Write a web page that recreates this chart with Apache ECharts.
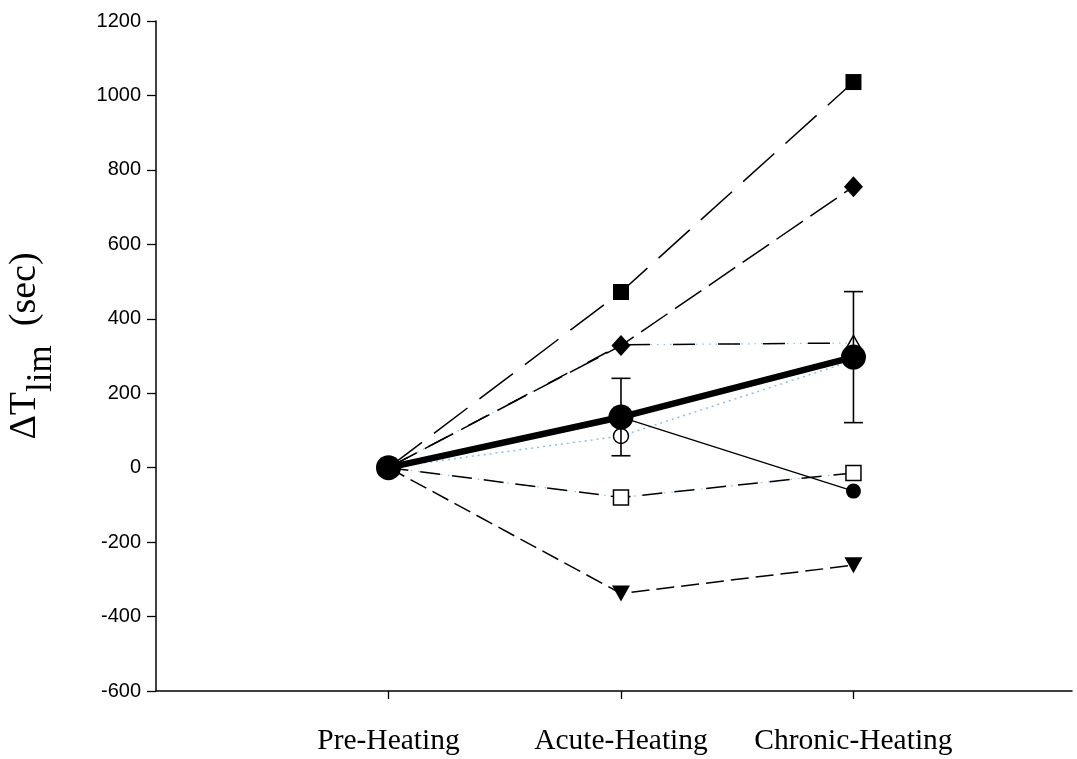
<!DOCTYPE html>
<html>
<head>
<meta charset="utf-8">
<script src="https://cdn.jsdelivr.net/npm/echarts@6/dist/echarts.min.js"></script>
<style>
  html, body { margin: 0; padding: 0; background: #fff; }
  #chart { width: 1077px; height: 759px; }
</style>
</head>
<body>
<div id="chart"></div>
<script>
// Phases of the heating protocol (x positions 1, 2, 3)
var categories = ['Pre-Heating', 'Acute-Heating', 'Chronic-Heating'];

// Individual subjects: change in Tlim (sec)
var subjSquareFilled = [0, 472, 1036];
var subjDiamond      = [0, 328, 755];
var subjTriangleUp   = [0, 330, 335];
var subjCircleOpen   = [0, 85, 288];
var subjCircleFilled = [0, 136, -63];
var subjSquareOpen   = [0, -80, -14];
var subjTriangleDown = [0, -338, -262];

// Group mean and its error
var meanValues = [0, 136, 297];
var meanError  = [0, 104, 176];

// Y axis ticks
var yTicks = { min: -600, max: 1200, step: 200 };

function pts(arr, hideAt) {
  return arr.map(function (v, i) {
    if (hideAt && hideAt.indexOf(i) >= 0) return { value: [i + 1, v], symbol: 'none' };
    return [i + 1, v];
  });
}

var BLUE_DOT = '#8dbde6';
var serif = '"Liberation Serif", "Times New Roman", serif';
var sans = '"Liberation Sans", Arial, sans-serif';

function lineSeries(name, values, opts) {
  return {
    name: name,
    type: 'line',
    data: pts(values, opts.hideAt),
    z: opts.z || 3,
    symbol: opts.symbol || 'none',
    symbolSize: opts.symbolSize || 0,
    symbolRotate: opts.symbolRotate || 0,
    showSymbol: opts.symbol ? true : false,
    itemStyle: opts.itemStyle || { color: '#000' },
    lineStyle: { color: opts.color || '#000', width: opts.width || 1.5, type: opts.type || 'solid' },
    silent: true,
    animation: false
  };
}

var filledMark = { color: '#000' };
var openMark = { color: '#fff', borderColor: '#000', borderWidth: 1.5 };

var series = [
  // faint dotted underlays visible between the dashes
  lineSeries('triUpDots', subjTriangleUp, { color: BLUE_DOT, width: 1.2, type: [1.5, 5], z: 2 }),
  lineSeries('sqOpenDots', subjSquareOpen, { color: BLUE_DOT, width: 1.2, type: [1.5, 6], z: 2 }),
  lineSeries('circOpen', subjCircleOpen, { color: BLUE_DOT, width: 1.5, type: [2, 4], z: 2 }),

  // the acute triangle sits underneath the diamond
  lineSeries('triUp', subjTriangleUp, { type: [22, 23], symbol: 'triangle', symbolSize: [17, 15], itemStyle: openMark, z: 3, hideAt: [1] }),
  lineSeries('sqFilled', subjSquareFilled, { type: [42, 15], symbol: 'rect', symbolSize: 16, itemStyle: filledMark, z: 4 }),
  lineSeries('diamond', subjDiamond, { type: [32, 9], symbol: 'diamond', symbolSize: [19, 21], itemStyle: filledMark, z: 4 }),
  lineSeries('circOpenMarks', subjCircleOpen, { color: 'rgba(0,0,0,0)', symbol: 'circle', symbolSize: 15, itemStyle: openMark, z: 4 }),
  lineSeries('circFilled', subjCircleFilled, { width: 1.3, symbol: 'circle', symbolSize: 15, itemStyle: filledMark, z: 4 }),
  lineSeries('sqOpen', subjSquareOpen, { type: [20, 12], symbol: 'rect', symbolSize: 15, itemStyle: openMark, z: 4 }),
  lineSeries('triDown', subjTriangleDown, { type: [18, 7], symbol: 'triangle', symbolSize: [18, 16], symbolRotate: 180, itemStyle: filledMark, z: 4 }),

  // error bars for the mean
  {
    name: 'meanErr',
    type: 'custom',
    z: 5,
    silent: true,
    animation: false,
    data: meanValues.map(function (m, i) { return [i + 1, m - meanError[i], m + meanError[i]]; })
      .filter(function (d, i) { return meanError[i] > 0; }),
    renderItem: function (params, api) {
      var x = api.value(0);
      var lo = api.coord([x, api.value(1)]);
      var hi = api.coord([x, api.value(2)]);
      var hw = 9.5;
      var style = { stroke: '#000', lineWidth: 1.6 };
      return {
        type: 'group',
        children: [
          { type: 'line', shape: { x1: lo[0], y1: lo[1], x2: hi[0], y2: hi[1] }, style: style },
          { type: 'line', shape: { x1: lo[0] - hw, y1: lo[1], x2: lo[0] + hw, y2: lo[1] }, style: style },
          { type: 'line', shape: { x1: hi[0] - hw, y1: hi[1], x2: hi[0] + hw, y2: hi[1] }, style: style }
        ]
      };
    }
  },

  lineSeries('mean', meanValues, { width: 6.5, symbol: 'circle', symbolSize: 25, itemStyle: filledMark, z: 6 })
];

var chart = echarts.init(document.getElementById('chart'), null, { renderer: 'canvas' });
chart.setOption({
  backgroundColor: '#fff',
  animation: false,
  grid: { left: 156, right: 5, top: 21, bottom: 68, containLabel: false, outerBoundsMode: 'none' },
  xAxis: {
    type: 'value',
    min: 0,
    max: 3.94,
    splitLine: { show: false },
    axisLine: { show: true, onZero: false, lineStyle: { color: '#000', width: 1.5 } },
    axisTick: { show: true, customValues: [1, 2, 3], length: 8, lineStyle: { color: '#000', width: 1.3 } },
    axisLabel: {
      customValues: [1, 2, 3],
      margin: 35,
      color: '#000',
      fontFamily: serif,
      fontSize: 29.5,
      formatter: function (v) { return categories[Math.round(v) - 1] || ''; }
    }
  },
  yAxis: {
    type: 'value',
    min: yTicks.min,
    max: yTicks.max,
    interval: yTicks.step,
    splitLine: { show: false },
    axisLine: { show: true, onZero: false, lineStyle: { color: '#000', width: 1.5 } },
    axisTick: { show: true, length: 9, lineStyle: { color: '#000', width: 1.3 } },
    axisLabel: {
      margin: 15, color: '#000', fontFamily: sans, fontSize: 20,
      formatter: function (v) { return String(v); }
    },
    name: '{a|\u0394T}{b|lim}{a|\u2002(sec)}',
    nameLocation: 'middle',
    nameRotate: 90,
    nameGap: 106,
    nameTextStyle: {
      padding: [0, 0, 0, 20],
      rich: {
        a: { fontFamily: serif, fontSize: 38, color: '#000', lineHeight: 50 },
        b: { fontFamily: serif, fontSize: 35, color: '#000', lineHeight: 50, padding: [34, 0, 0, 0] }
      }
    }
  },
  series: series
});
</script>
</body>
</html>
